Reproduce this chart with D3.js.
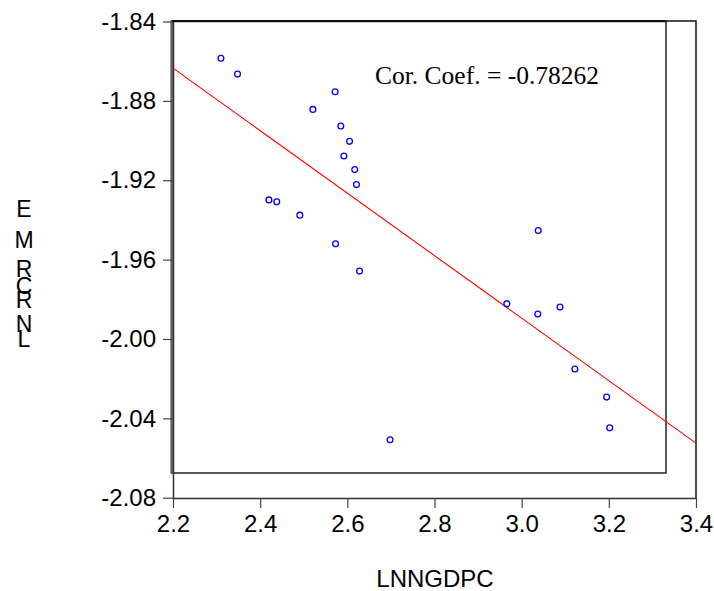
<!DOCTYPE html>
<html>
<head>
<meta charset="utf-8">
<script src="https://cdn.jsdelivr.net/npm/d3@7"></script>
<style>
body { margin: 0; background: #fff; }
svg text { font-family: "Liberation Sans", Arial, Helvetica, sans-serif; }
</style>
</head>
<body>
<script>
// data
var lnngdpc = [2.310, 2.348, 2.572, 2.521, 2.585, 2.605, 2.592, 2.617, 2.621, 2.420, 2.438,
	2.491, 2.573, 2.628, 3.038, 2.966, 3.037, 3.088, 3.122, 3.195, 3.202, 2.698];
var lnrcrme = [-1.8585, -1.8665, -1.8754, -1.8843, -1.8927, -1.9004, -1.9078, -1.9146, -1.9222, -1.9299, -1.9309,
	-1.9376, -1.9520, -1.9658, -1.9453, -1.9822, -1.9874, -1.9839, -2.0151, -2.0293, -2.0448, -2.0508];

// fitted line end points
var fitX = [2.2, 3.4];
var fitY = [-1.8635, -2.0525];

var xTicks = [2.2, 2.4, 2.6, 2.8, 3.0, 3.2, 3.4];
var yTicks = [-1.84, -1.88, -1.92, -1.96, -2.00, -2.04, -2.08];
var xTitle = "LNNGDPC";
var yTitleLetters = ["E", "M", "R", "C", "R", "N", "L"];
var corText = "Cor. Coef. = -0.78262";

var width = 714, height = 591;

var x = d3.scaleLinear().domain([2.2, 3.4]).range([173, 696]);
var y = d3.scaleLinear().domain([-1.84, -2.08]).range([21.5, 497.7]);

var svg = d3.select("body").append("svg")
	.attr("width", width).attr("height", height);

// inner plot box
svg.append("rect")
	.attr("x", 171.5).attr("y", 21).attr("width", 666 - 171.5).attr("height", 473 - 21)
	.attr("fill", "none").attr("stroke", "#222").attr("stroke-width", 1.5);
svg.append("line")
	.attr("x1", 172).attr("x2", 172).attr("y1", 21).attr("y2", 473)
	.attr("stroke", "#666").attr("stroke-width", 3);

// outer frame (top + right)
svg.append("path")
	.attr("d", "M172," + 21 + "H696V498")
	.attr("fill", "none").attr("stroke", "#111").attr("stroke-width", 1.5);
svg.append("line")
	.attr("x1", 172).attr("x2", 666).attr("y1", 21.3).attr("y2", 21.3)
	.attr("stroke", "#111").attr("stroke-width", 2);

var xAxis = d3.axisBottom(x).tickValues(xTicks).tickSize(10).tickSizeOuter(0);
var yAxis = d3.axisLeft(y).tickValues(yTicks).tickSize(10).tickSizeOuter(0);

var gx = svg.append("g").attr("transform", "translate(0,498)").call(xAxis);
var gy = svg.append("g").attr("transform", "translate(173,0)").call(yAxis);

[gx, gy].forEach(function(g) {
	g.select(".domain").attr("stroke", "#333").attr("stroke-width", 1.5);
	g.selectAll(".tick line").attr("stroke", "#444").attr("stroke-width", 1.2);
	g.selectAll(".tick text").attr("fill", "#000").style("font-size", "24px")
		.style("font-family", "'Liberation Sans', Arial, sans-serif");
});
gx.selectAll(".tick text").attr("y", 17).text(function(d) { return d.toFixed(1); });
gy.selectAll(".tick text").attr("x", -17).text(function(d) { return d.toFixed(2); });

// regression line
svg.append("line")
	.attr("x1", x(fitX[0])).attr("y1", y(fitY[0]))
	.attr("x2", x(fitX[1])).attr("y2", y(fitY[1]))
	.attr("stroke", "#ff0000").attr("stroke-width", 1.1);

// points
svg.selectAll("circle.pt").data(lnngdpc).enter().append("circle")
	.attr("class", "pt")
	.attr("cx", function(d) { return x(d); })
	.attr("cy", function(d, i) { return y(lnrcrme[i]); })
	.attr("r", 2.9)
	.attr("fill", "none").attr("stroke", "#0000ff").attr("stroke-width", 1.3);

// correlation note
svg.append("text")
	.attr("x", 375).attr("y", 84)
	.style("font-family", "'Liberation Serif', 'Times New Roman', serif")
	.style("font-size", "25.5px")
	.text(corText);

// axis titles
svg.append("text")
	.attr("x", 435).attr("y", 587).attr("text-anchor", "middle")
	.style("font-size", "24px").text(xTitle);

// stacked letters as EViews draws them (they overlap in the original too)
var letterY = [217, 248, 277, 294, 308, 332, 347];
svg.selectAll("text.ylet").data(yTitleLetters).enter().append("text")
	.attr("class", "ylet")
	.attr("x", 24).attr("y", function(d, i) { return letterY[i]; })
	.attr("text-anchor", "middle")
	.style("font-size", "23px")
	.text(function(d) { return d; });
</script>
</body>
</html>
